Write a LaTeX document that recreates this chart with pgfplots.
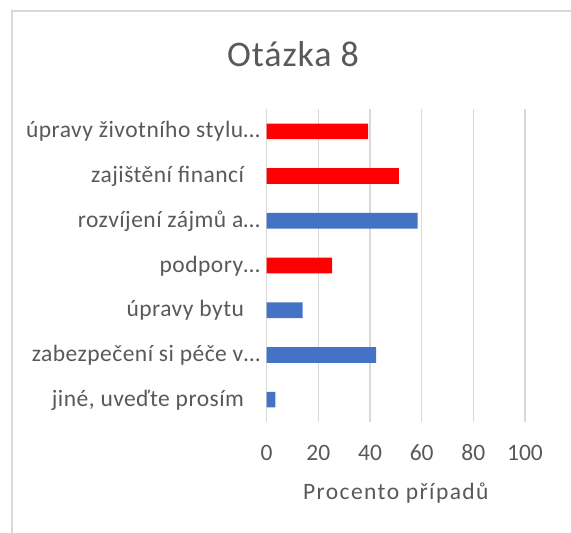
\documentclass[border=0pt]{standalone}
\usepackage{pgfplots}
\pgfplotsset{compat=1.18}
\usepackage{fontspec}
\setmainfont{Carlito}
\definecolor{barblue}{HTML}{4472C4}
\definecolor{barred}{HTML}{FF0000}
\definecolor{txt}{HTML}{595959}
\definecolor{grd}{HTML}{D9D9D9}
\begin{document}
\begin{tikzpicture}[x=1pt,y=1pt]
\useasboundingbox (0,0) rectangle (571,-533);
\draw[grd, line width=1.3pt] (12,-533) -- (12,-11) -- (571,-11);
\node[anchor=base, text=txt, font=\fontsize{36}{43}\selectfont\addfontfeatures{LetterSpace=2.5}, inner sep=0pt] at (293,-66.5) {Otázka 8};
\begin{axis}[
  at={(266.7pt,-422pt)}, anchor=south west,
  scale only axis, width=258.3pt, height=313pt,
  xbar, bar width=15.7pt, bar shift=0pt,
  xmin=0, xmax=100, ymin=-0.5, ymax=6.5,
  xtick={0,20,...,100},
  ytick={0,...,6},
  yticklabels={{jiné, uveďte prosím\hspace*{16pt}},{zabezpečení si péče v…},{úpravy bytu\hspace*{16pt}},{podpory…},{rozvíjení zájmů a…},{zajištění financí\hspace*{16pt}},{úpravy životního stylu…}},
  xmajorgrids, grid style={grd, line width=1.5pt},
  axis line style={draw=none},
  major tick length=0pt,
  tick style={draw=none},
  /pgf/number format/assume math mode=true,
  ticklabel style={font=\fontsize{23.5}{28}\selectfont, text=txt, inner sep=0pt},
  xticklabel style={anchor=base, yshift=-38.5pt},
  yticklabel style={anchor=base east, xshift=-6.5pt, yshift=-6.5pt, font=\fontsize{23.5}{28}\selectfont\addfontfeatures{LetterSpace=2}},
  xlabel={Procento případů},
  xlabel style={font=\fontsize{23.5}{28}\selectfont\addfontfeatures{LetterSpace=6}, text=txt, anchor=base, at={(axis description cs:0.5,0)}, yshift=-77pt, inner sep=0pt},
  clip=false,
]
\addplot[draw=none, fill=barblue] coordinates {(3.4,0) (42.4,1) (13.9,2) (58.4,4)};
\addplot[draw=none, fill=barred] coordinates {(25.3,3) (51.2,5) (39.3,6)};
\end{axis}
\end{tikzpicture}
\end{document}
